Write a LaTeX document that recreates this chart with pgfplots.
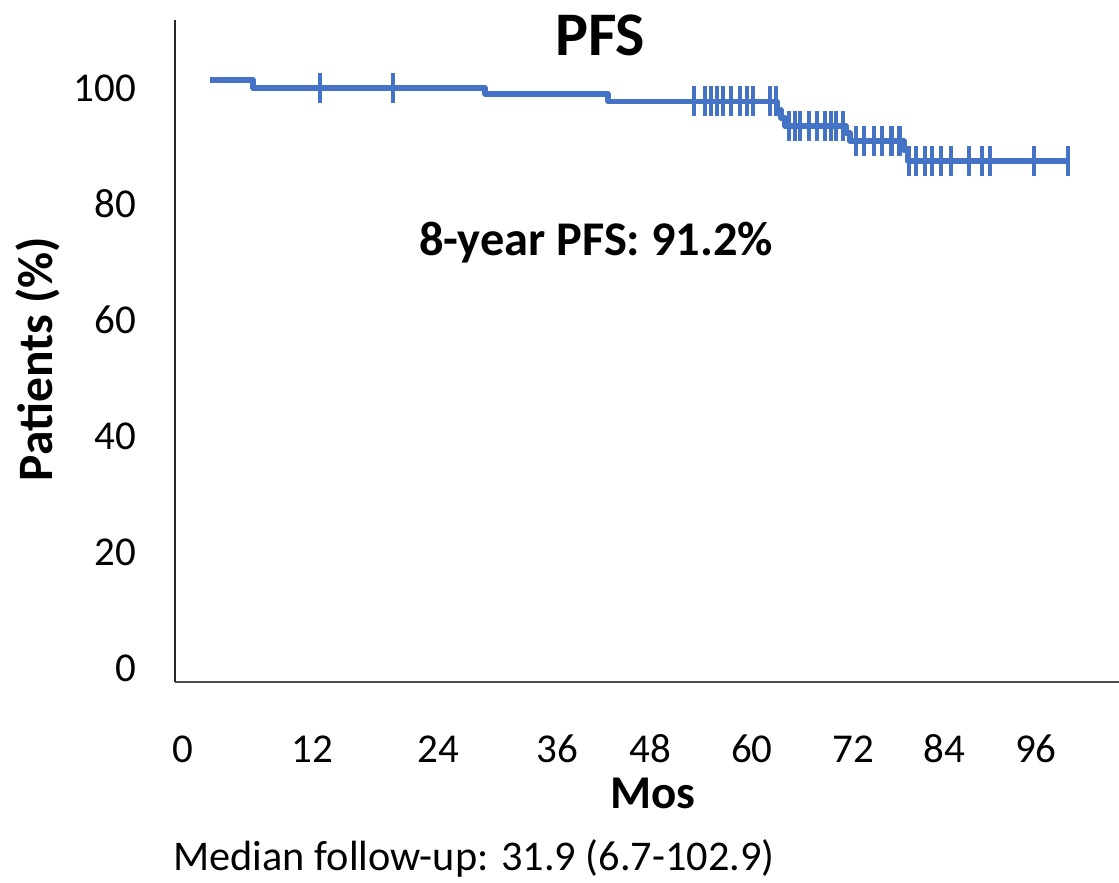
\documentclass[border=0pt]{standalone}
\usepackage{fontspec}
\setmainfont{Carlito}
\usepackage{pgfplots}
\pgfplotsset{compat=1.18}
\definecolor{kmblue}{HTML}{4472C4}
\begin{document}
\begin{tikzpicture}
\begin{axis}[
  x=8.917pt, y=5.8pt,
  xmin=-0.673, xmax=105.19, ymin=-2.41, ymax=111.72,
  axis x line=bottom, axis y line=left,
  axis line style={-},
  x axis line style={line width=2pt, black!70},
  y axis line style={line width=1.3pt, black!85},
  clip=false,
  xtick={0.22,14.69,28.82,42.17,52.6,64.03,75.36,85.57,95.87},
  xticklabels={0,12,24,36,48,60,72,84,96},
  ytick={0,20,40,60,80,100},
  major tick length=0pt,
  /pgf/number format/assume math mode=true,
  tick label style={font=\fontsize{41}{48}\selectfont, text=black, inner sep=0pt},
  xticklabel style={anchor=center, yshift=-67pt},
  yticklabel style={anchor=east, xshift=-39pt},
]
% Kaplan-Meier step curve
\addplot[kmblue, line width=5.5pt, const plot, line join=round] coordinates {
  (3.25,101.4) (8.07,100) (34.09,98.97) (47.89,97.67)
  (66.84,96.2) (67.29,94.8) (67.74,93.45)
  (74.58,92.2) (75.02,90.86)
  (81.08,89.3) (81.53,87.41) (99.47,87.41)
};
% censored observations
\addplot[kmblue, only marks, mark=|, mark size=15pt, mark options={line width=4.6pt}] coordinates {
  (15.59,100) (23.77,100)
  (57.53,97.67) (58.76,97.67) (59.44,97.67) (60.11,97.67) (60.78,97.67)
  (61.68,97.67) (62.69,97.67) (63.47,97.67) (64.15,97.67) (66.05,97.67) (66.73,97.67)
  (68.18,93.45) (68.86,93.45) (69.42,93.45) (70.43,93.45) (71.32,93.45)
  (72.22,93.45) (72.89,93.45) (73.45,93.45) (74.24,93.45)
  (75.70,90.86) (76.6,90.86) (77.7,90.86) (78.6,90.86) (79.7,90.86) (80.6,90.86)
  (81.64,87.41) (82.43,87.41) (83.44,87.41) (84.22,87.41) (85.23,87.41)
  (86.35,87.41) (88.37,87.41) (89.83,87.41) (90.73,87.41) (95.66,87.41) (99.47,87.41)
};
\node[font=\bfseries\fontsize{62}{70}\selectfont] at (axis cs:46.99,109.14) {PFS};
\node[font=\bfseries\fontsize{48.4}{56}\selectfont] at (axis cs:46.54,73.28) {8-year PFS: 91.2\%};
\node[font=\bfseries\fontsize{49.5}{56}\selectfont, rotate=90] at (axis cs:-16.04,53.28) {Patients (\%)};
\node[font=\bfseries\fontsize{47}{54}\selectfont] at (axis cs:52.93,-21.55) {Mos};
\node[font=\fontsize{42.3}{50}\selectfont] at (axis cs:32.86,-32.76) {Median follow-up: 31.9 (6.7-102.9)};
\coordinate (bbtl) at (axis cs:-20.30,115.17);
\coordinate (bbbr) at (axis cs:105.19,-36.90);
\end{axis}
\pgfresetboundingbox
\path (bbtl) rectangle (bbbr);
\end{tikzpicture}
\end{document}
